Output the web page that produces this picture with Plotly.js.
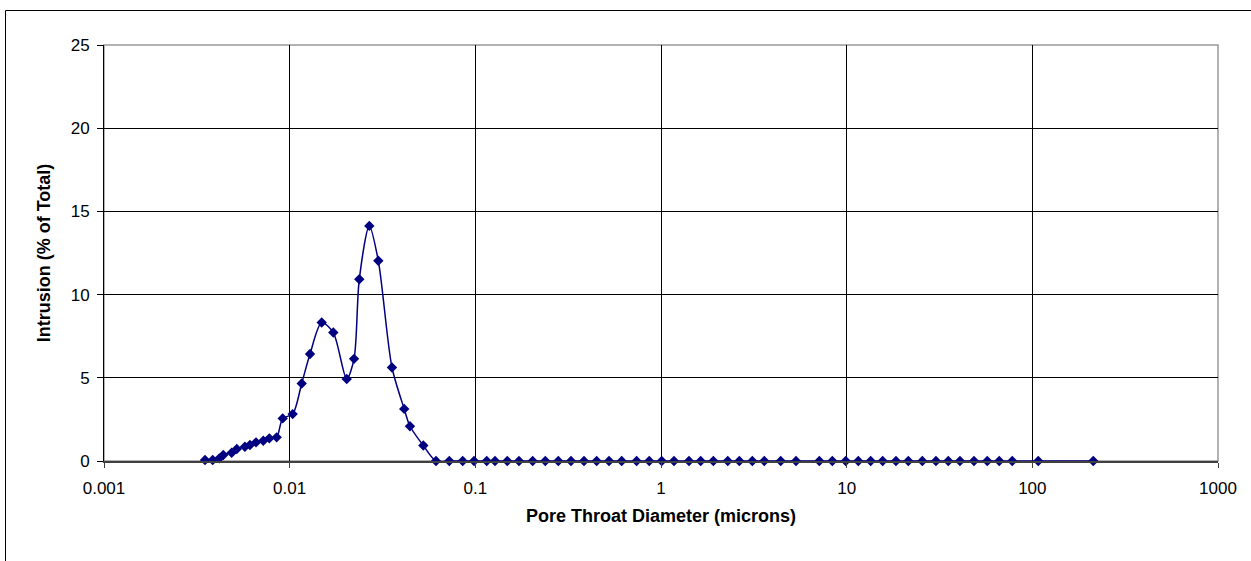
<!DOCTYPE html>
<html>
<head>
<meta charset="utf-8">
<script src="https://cdn.plot.ly/plotly-3.0.1.min.js"></script>
<style>html,body{margin:0;padding:0;background:#fff;}#chart{width:1251px;height:561px;}</style>
</head>
<body>
<div id="chart"></div>
<script>
const diameters = [0.0035, 0.00385, 0.00418, 0.00439, 0.00487, 0.00519, 0.00574, 0.00611, 0.00659, 0.00721, 0.00777, 0.00851, 0.00917, 0.01038, 0.01161, 0.01287, 0.01488, 0.01718, 0.02029, 0.02222, 0.02371, 0.02685, 0.03003, 0.03557, 0.0414, 0.04446, 0.05247,
  0.0614, 0.0724, 0.0855, 0.0984, 0.1152, 0.1276, 0.1486, 0.1718, 0.2036, 0.2381, 0.2798, 0.3275, 0.3848, 0.4503, 0.5248, 0.6142, 0.7391, 0.8643, 1.009, 1.175, 1.415, 1.636, 1.914, 2.288, 2.641, 3.103, 3.600, 4.413, 5.337, 7.125, 8.370, 9.886, 11.55, 13.47, 15.63, 18.43, 21.48, 25.55, 30.26, 35.26, 40.76, 48.49, 57.18, 66.33, 77.96, 107.6, 212.9];
const intrusion = [0.06, 0.06, 0.16, 0.36, 0.5, 0.72, 0.86, 0.96, 1.12, 1.22, 1.36, 1.42, 2.56, 2.82, 4.66, 6.43, 8.32, 7.72, 4.93, 6.14, 10.92, 14.13, 12.03, 5.62, 3.13, 2.09, 0.93,
  0, 0, 0, 0, 0, 0, 0, 0, 0, 0, 0, 0, 0, 0, 0, 0, 0, 0, 0, 0, 0, 0, 0, 0, 0, 0, 0, 0, 0, 0, 0, 0, 0, 0, 0, 0, 0, 0, 0, 0, 0, 0, 0, 0, 0, 0, 0];
const xTickVals = [0.001, 0.01, 0.1, 1, 10, 100, 1000];
const xTickText = ['0.001', '0.01', '0.1', '1', '10', '100', '1000'];
const yTickVals = [0, 5, 10, 15, 20, 25];

const navy = '#000080';
const trace = {
  x: diameters, y: intrusion, type: 'scatter', mode: 'lines+markers',
  line: {color: navy, width: 1.5, shape: 'spline', smoothing: 0.8},
  marker: {symbol: 'diamond', size: 8, color: navy},
  cliponaxis: false, showlegend: false
};

const W = 1251, H = 561, L = 104, R = 33, T = 45, B = 100;
const pw = W - L - R, ph = H - T - B;
const layout = {
  width: W, height: H,
  margin: {l: L, r: R, t: T, b: B, pad: 0},
  paper_bgcolor: '#fff', plot_bgcolor: '#fff',
  font: {family: 'Liberation Sans, Arial, sans-serif', size: 17, color: '#000'},
  xaxis: {
    type: 'log', range: [-3, 3], tickvals: xTickVals, ticktext: xTickText,
    showgrid: true, gridcolor: '#000', gridwidth: 1,
    showline: true, linecolor: '#404040', linewidth: 1.5,
    ticks: 'outside', ticklen: 5, tickcolor: '#404040', zeroline: false,
    tickfont: {size: 17}, ticklabelstandoff: 6, automargin: false,
    title: {text: '<b>Pore Throat Diameter (microns)</b>', font: {size: 18}, standoff: 12}
  },
  yaxis: {
    range: [0, 25], tickvals: yTickVals,
    showgrid: true, gridcolor: '#000', gridwidth: 1,
    showline: true, linecolor: '#000', linewidth: 1,
    ticks: 'outside', ticklen: 6, tickcolor: '#000', zeroline: false,
    tickfont: {size: 17}, ticklabelstandoff: 4, automargin: false,
    title: {text: '<b>Intrusion (% of Total)</b>', font: {size: 18}, standoff: 15}
  },
  shapes: [
    {type: 'rect', xref: 'paper', yref: 'paper', x0: 0, x1: 1, y0: 0, y1: 1,
     line: {color: '#999', width: 1.5}, layer: 'below'},
    {type: 'rect', xref: 'paper', yref: 'paper',
     x0: (5.5 - L) / pw, x1: (W + 10 - L) / pw,
     y0: -(H + 10 - (T + ph)) / ph, y1: 1 + (T - 10.5) / ph,
     line: {color: '#000', width: 1}, layer: 'below'}
  ]
};
Plotly.newPlot('chart', [trace], layout, {displayModeBar: false, staticPlot: true});
</script>
</body>
</html>
